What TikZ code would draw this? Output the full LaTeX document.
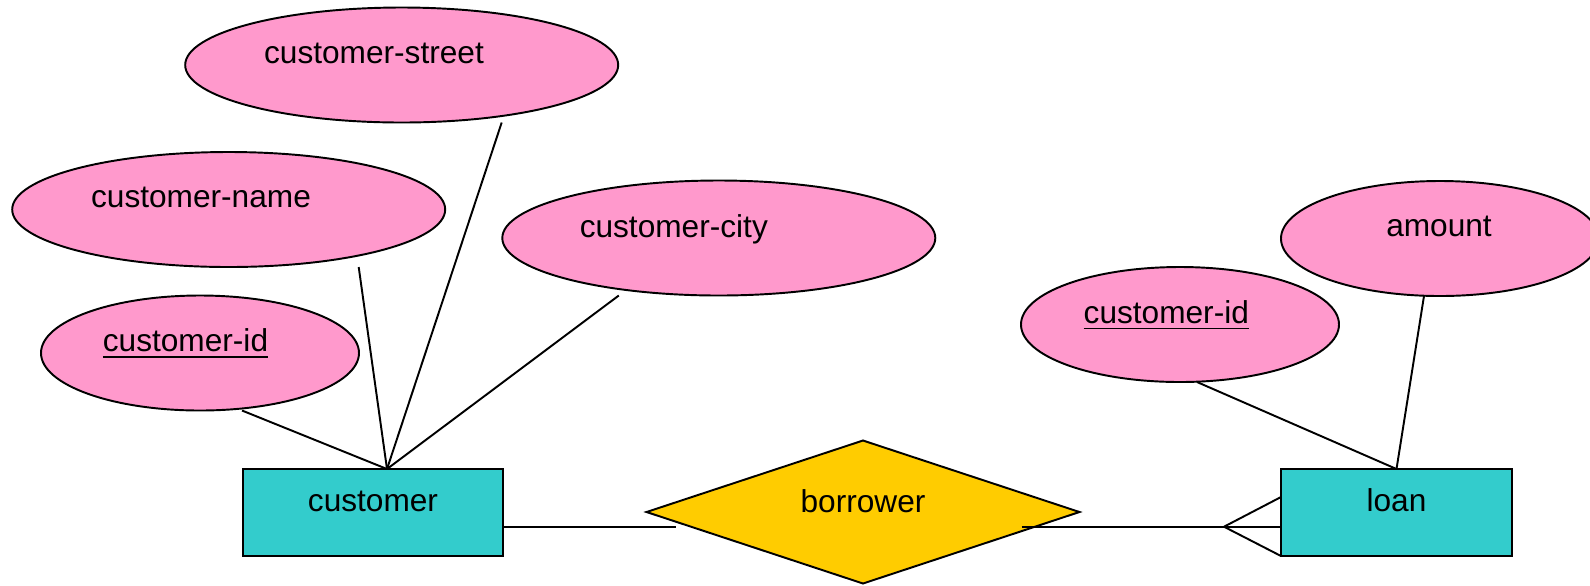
\documentclass[tikz,border=0pt]{standalone}
\usepackage{fontspec}
\setmainfont{Liberation Sans}
\usetikzlibrary{shapes.geometric,positioning}

\definecolor{attrpink}{HTML}{FF99CC}
\definecolor{entcyan}{HTML}{33CCCC}
\definecolor{relgold}{HTML}{FFCC00}

\tikzset{
  attr/.style={ellipse,draw,fill=attrpink,inner sep=0pt,outer sep=0pt,
    minimum width=4.33cm,minimum height=1.15cm},
  sattr/.style={attr,minimum width=3.18cm},
  entity/.style={rectangle,draw,fill=entcyan,inner sep=0pt,outer sep=0pt,
    minimum height=0.87cm},
  rel/.style={diamond,draw,fill=relgold,inner sep=0pt,outer sep=0pt,
    minimum width=4.33cm,minimum height=1.43cm},
  lbl/.style={anchor=base,inner sep=0pt}
}

\begin{document}
\begin{tikzpicture}[line width=0.55pt,font=\fontsize{9}{11}\selectfont]
    \useasboundingbox (0,0) rectangle (15.9,-5.85);
    % attributes
    \node[attr]  (c_street) at (4.017,-0.65)  {};
    \node[attr]  (c_name)   at (2.287,-2.095) {};
    \node[attr]  (c_city)   at (7.188,-2.38)  {};
    \node[sattr] (c_id)     at (2.00,-3.53)   {};
    \node[sattr] (l_id)     at (11.80,-3.245) {};
    \node[sattr] (amount)   at (14.40,-2.385) {};
    % entities and relationship
    \node[entity,minimum width=2.60cm] (customer) at (3.73,-5.125)  {};
    \node[entity,minimum width=2.31cm] (loan)     at (13.965,-5.125) {};
    \node[rel] (borrower) at (8.63,-5.12) {};
    % labels
    \node[lbl] (t_street)   at ([shift={(-0.277,0.017)}]c_street.center) {customer-street};
    \node[lbl] (t_name)     at ([shift={(-0.277,0.018)}]c_name.center)   {customer-name};
    \node[lbl] (t_city)     at ([shift={(-0.45,0.003)}]c_city.center)    {customer-city};
    \node[lbl] (t_cid)      at ([shift={(-0.145,0.013)}]c_id.center)     {\underline{customer-id}};
    \node[lbl] (t_lid)      at ([shift={(-0.137,0.012)}]l_id.center)     {\underline{customer-id}};
    \node[lbl] (t_amount)   at ([shift={(-0.01,0.025)}]amount.center)    {amount};
    \node[lbl] (t_customer) at ([yshift=0.015cm]customer.center)         {customer};
    \node[lbl] (t_loan)     at ([yshift=0.015cm]loan.center)             {loan};
    \node[lbl] (t_borrower) at (borrower.center)                         {borrower};
    \coordinate (crow) at ([shift={(-0.57,-0.142)}]loan.west);
    \path
    ([xshift=0.42cm]c_id.south)      edge ([xshift=0.14cm]customer.north)
    ([xshift=1.30cm]c_name.south)    edge ([xshift=0.14cm]customer.north)
    ([xshift=1.00cm]c_street.south)  edge ([xshift=0.14cm]customer.north)
    ([xshift=-1.00cm]c_city.south)   edge ([xshift=0.14cm]customer.north)
    ([xshift=0.17cm]l_id.south)      edge (loan.north)
    ([xshift=-0.16cm]amount.south)   edge (loan.north)
    ([yshift=-0.142cm]customer.east) edge ([shift={(-1.87,-0.147)}]borrower.center)
    ([shift={(1.587,-0.147)}]borrower.center) edge ([yshift=-0.142cm]loan.west)
    (crow) edge ([yshift=0.155cm]loan.west)
    (crow) edge (loan.south west);
\end{tikzpicture}
\end{document}
